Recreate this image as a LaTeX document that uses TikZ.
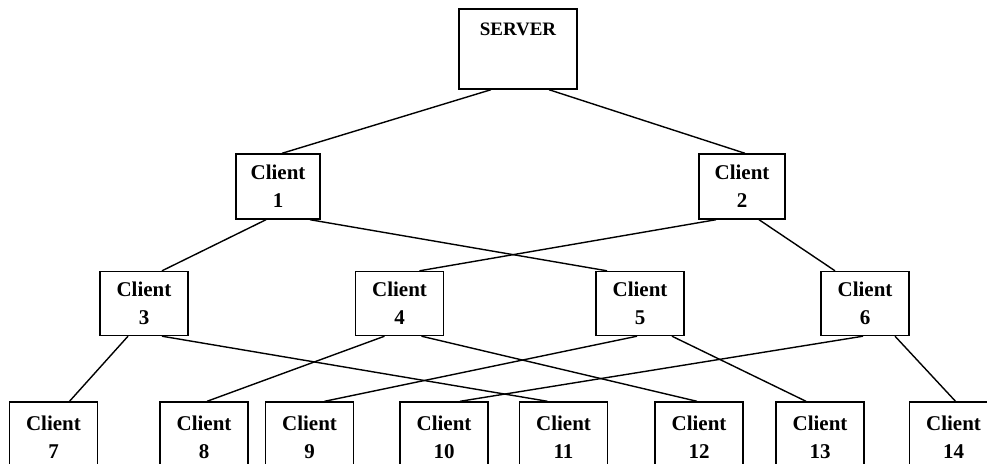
\documentclass[tikz,border=0pt]{standalone}
\usepackage{fontspec}
\setmainfont{Liberation Serif}
\usepackage{tikz}
\usetikzlibrary{calc}
\tikzstyle{srvbox} = [draw=black, line width=1.4pt, rectangle,
minimum width=118pt, minimum height=80pt]
\tikzstyle{clbox} = [draw=black, fill=white, line width=1.4pt, rectangle,
minimum width=88pt, minimum height=64pt, align=center, inner sep=0pt,
font=\fontsize{21}{28}\selectfont\bfseries]
\tikzstyle{link} = [line width=1.4pt]

\begin{document}
\begin{tikzpicture}[x=1pt,y=-1pt]
    \useasboundingbox (0,0) rectangle (987,463);
    \node[srvbox] (server) at (518,49) {};
    \node[anchor=base, inner sep=0pt, font=\fontsize{19}{23}\selectfont\bfseries]
        (srvname) at ($(server.north)+(0,27)$) {SERVER};
    \node[clbox, minimum width=84pt, minimum height=65pt] (c1) at (278,186.5) {Client\\1};
    \node[clbox, minimum width=86pt, minimum height=65pt] (c2) at (742,186.5) {Client\\2};
    \foreach \n/\x in {3/144,4/399.5,5/640,6/865}
        \node[clbox] (c\n) at (\x,303.5) {Client\\\n};
    \foreach \n/\x in {7/53.5,8/204,9/309.5,10/444,11/563.5,12/699,13/820,14/953.5}
        \node[clbox, minimum height=70pt] (c\n) at (\x,437) {Client\\\n};
    \foreach \a/\da/\b/\db in {server/-27/c1/4, server/31/c2/3,
        c1/-12/c3/18, c1/32/c5/-33, c2/-26/c4/20, c2/17/c6/-30,
        c3/-16/c7/16, c3/18/c11/-16, c4/-15/c8/3, c4/22/c12/-2,
        c5/-3/c9/15, c5/32/c13/-14, c6/-2/c10/16, c6/30/c14/2}
        \draw[link] ([xshift=\da pt]\a.south) -- ([xshift=\db pt]\b.north);
\end{tikzpicture}
\end{document}
